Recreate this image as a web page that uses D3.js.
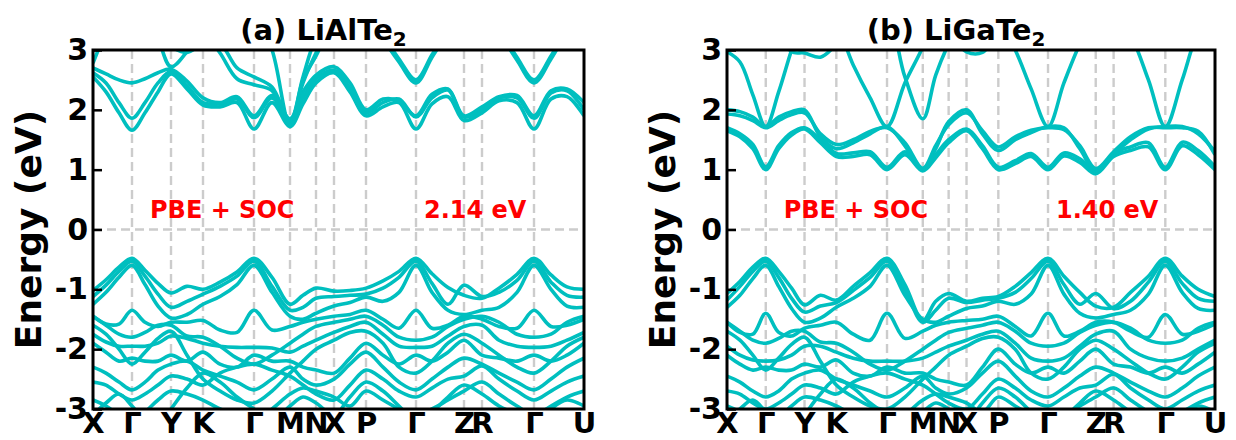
<!DOCTYPE html>
<html>
<head>
<meta charset="utf-8">
<script src="https://cdn.jsdelivr.net/npm/d3@7"></script>
<style>
  body { margin: 0; background: #fff; }
  svg { display: block; }
  text { font-family: "DejaVu Sans", sans-serif; font-weight: bold; }
</style>
</head>
<body>
<svg id="chart" width="1236" height="440"></svg>
<script>
// k-path: high-symmetry points (cumulative path length) and their labels
const kTicks  = [0, 39, 78, 110, 161, 197, 223, 241, 273, 323, 371, 389, 441, 491];
const kLabels = ["X", "Γ", "Y", "K", "Γ", "M", "N", "X", "P", "Γ", "Z", "R", "Γ", "U"];
// sampling of the path on which band energies are listed
const kGrid = [0, 13, 26, 39, 52, 65, 78, 94, 110, 127, 144, 161, 179, 197, 210, 223,
               241, 257, 273, 290, 306, 323, 339, 355, 371, 389, 406, 424, 441, 458, 474, 491];
const energyTicks = [-3, -2, -1, 0, 1, 2, 3];

// ---- LiAlTe2, PBE+SOC (eV) ----
const cbLiAlTe2 = [
  [2.55, 2.3, 1.95, 1.66, 1.95, 2.3, 2.6, 2.35, 2.08, 2.05, 2.12, 1.68, 2.12, 1.72, 2.1, 2.45, 2.62, 2.3, 1.9, 2.05, 2.12, 1.68, 2.1, 2.22, 1.82, 1.95, 2.15, 2.12, 1.68, 2.18, 2.22, 1.9],
  [2.62, 2.45, 2.12, 1.86, 2.12, 2.45, 2.64, 2.4, 2.12, 2.1, 2.18, 1.87, 2.2, 1.8, 2.2, 2.52, 2.66, 2.36, 1.95, 2.12, 2.18, 1.88, 2.2, 2.33, 1.88, 2.0, 2.2, 2.2, 1.86, 2.28, 2.32, 2.0],
  [2.7, 2.6, 2.5, 2.45, 2.52, 2.62, 2.68, 2.48, 2.2, 2.12, 2.22, 1.9, 2.24, 1.85, 2.3, 2.58, 2.72, 2.45, 2.0, 2.18, 2.15, 1.9, 2.26, 2.35, 1.9, 2.05, 2.22, 2.24, 1.9, 2.32, 2.35, 2.12],
  [2.78, 3.3, 3.7, 3.9, 3.7, 3.2, 2.72, 2.97, 3.3, 2.95, 2.52, 2.42, 2.32, 1.78, 2.5, 2.9, 3.5, 3.8, 3.8, 3.2, 2.8, 2.45, 2.88, 3.3, 3.8, 3.8, 3.7, 3.7, 3.7, 3.7, 3.7, 3.7],
  [3.7, 3.7, 3.7, 3.7, 3.7, 3.7, 3.7, 3.7, 3.7, 3.7, 3.7, 3.6, 3.0, 1.75, 2.45, 2.95, 3.5, 3.7, 3.7, 3.7, 3.7, 3.7, 3.7, 3.7, 3.7, 3.7, 3.3, 2.83, 2.45, 2.85, 3.3, 3.7],
  [3.7, 3.7, 3.7, 3.7, 3.5, 3.2, 3.05, 2.96, 3.1, 3.1, 2.7, 2.55, 2.38, 1.82, 2.55, 3.2, 3.6, 3.7, 3.7, 3.25, 2.85, 2.5, 2.92, 3.35, 3.8, 3.8, 3.35, 2.88, 2.5, 2.9, 3.35, 3.7]
];
const vbLiAlTe2 = [
  [-1.02, -0.84, -0.63, -0.48, -0.68, -0.9, -1.06, -0.95, -1.0, -0.88, -0.71, -0.48, -0.8, -1.25, -1.1, -0.98, -1.03, -1.02, -0.98, -0.86, -0.7, -0.48, -0.74, -0.97, -1.1, -1.15, -0.98, -0.75, -0.48, -0.76, -0.96, -1.0],
  [-1.12, -0.93, -0.7, -0.53, -0.78, -1.08, -1.3, -1.2, -1.08, -0.95, -0.78, -0.53, -0.95, -1.35, -1.3, -1.15, -1.12, -1.1, -1.08, -0.98, -0.8, -0.53, -0.9, -1.25, -0.93, -1.12, -1.05, -0.85, -0.53, -0.88, -1.1, -1.13],
  [-1.25, -1.05, -0.8, -0.6, -0.92, -1.28, -1.48, -1.42, -1.25, -1.12, -0.92, -0.6, -1.05, -1.45, -1.5, -1.4, -1.28, -1.22, -1.13, -1.2, -1.05, -0.6, -1.05, -1.35, -1.42, -1.35, -1.3, -1.05, -0.6, -1.0, -1.28, -1.3],
  [-1.45, -1.58, -1.58, -1.35, -1.55, -1.62, -1.55, -1.55, -1.52, -1.68, -1.72, -1.35, -1.68, -1.62, -1.55, -1.5, -1.45, -1.42, -1.35, -1.5, -1.65, -1.35, -1.65, -1.6, -1.45, -1.5, -1.62, -1.65, -1.35, -1.62, -1.6, -1.5],
  [-1.75, -1.88, -1.95, -1.95, -1.95, -1.9, -1.78, -1.82, -1.9, -1.95, -1.97, -1.97, -1.98, -2.05, -1.95, -1.85, -1.72, -1.62, -1.55, -1.75, -1.95, -1.97, -1.95, -1.78, -1.62, -1.6, -1.85, -1.95, -1.97, -1.95, -1.85, -1.72],
  [-1.9, -2.05, -2.2, -2.15, -2.2, -2.2, -2.1, -2.2, -2.05, -2.25, -2.3, -2.1, -2.2, -2.2, -2.3, -2.35, -2.4, -2.15, -1.9, -2.1, -2.25, -2.1, -2.2, -2.05, -1.85, -2.1, -2.15, -2.2, -2.1, -2.2, -2.1, -1.9],
  [-2.3, -2.4, -2.55, -2.68, -2.55, -2.35, -2.25, -2.2, -2.35, -2.45, -2.55, -2.68, -2.5, -2.3, -2.5, -2.6, -2.5, -2.25, -2.05, -2.3, -2.55, -2.68, -2.5, -2.3, -2.15, -2.25, -2.4, -2.55, -2.68, -2.5, -2.3, -2.15],
  [-1.6, -1.75, -2.0, -2.25, -2.05, -1.82, -1.7, -2.1, -2.5, -2.7, -2.85, -2.9, -2.7, -2.4, -2.2, -2.0, -1.85, -1.72, -1.7, -1.9, -2.3, -2.4, -2.2, -1.9, -1.75, -1.9, -2.1, -2.3, -2.4, -2.2, -1.95, -1.8],
  [-2.55, -2.6, -2.75, -2.85, -2.75, -2.6, -2.45, -2.5, -2.6, -2.4, -2.3, -2.25, -2.35, -2.45, -2.6, -2.75, -2.85, -2.6, -2.35, -2.5, -2.7, -2.8, -2.65, -2.5, -2.45, -2.28, -2.5, -2.7, -2.85, -2.7, -2.55, -2.45],
  [-2.85, -2.95, -3.1, -3.2, -3.05, -2.85, -2.7, -2.75, -2.85, -3.0, -3.1, -3.2, -3.0, -2.75, -2.65, -2.7, -2.8, -2.95, -2.7, -2.85, -3.0, -3.1, -3.0, -2.85, -2.7, -2.55, -2.75, -2.95, -3.1, -2.95, -2.8, -2.7],
  [-1.45, -1.6, -1.75, -1.8, -1.72, -1.6, -1.6, -1.78, -1.8, -1.95, -2.15, -2.25, -2.1, -1.9, -1.75, -1.62, -1.55, -1.5, -1.45, -1.6, -1.8, -1.85, -1.8, -1.62, -1.5, -1.45, -1.55, -1.75, -1.8, -1.75, -1.55, -1.45],
  [-3.1, -2.9, -2.75, -2.95, -3.2, -3.3, -3.0, -2.65, -2.4, -2.55, -2.8, -3.0, -3.2, -2.95, -2.8, -2.9, -3.1, -2.8, -2.55, -2.7, -2.95, -3.2, -3.05, -2.8, -2.6, -2.75, -2.95, -3.1, -3.3, -3.0, -2.85, -2.95]
];

// ---- LiGaTe2, PBE+SOC (eV) ----
const cbLiGaTe2 = [
  [1.65, 1.55, 1.35, 1.0, 1.35, 1.58, 1.68, 1.45, 1.22, 1.22, 1.25, 1.0, 1.25, 0.98, 1.2, 1.45, 1.65, 1.35, 1.0, 1.1, 1.22, 1.0, 1.23, 1.12, 0.93, 1.22, 1.32, 1.38, 1.0, 1.4, 1.25, 1.0],
  [1.7, 1.6, 1.42, 1.05, 1.4, 1.62, 1.7, 1.5, 1.27, 1.28, 1.3, 1.04, 1.3, 1.02, 1.25, 1.5, 1.68, 1.4, 1.04, 1.15, 1.27, 1.04, 1.28, 1.18, 0.97, 1.27, 1.38, 1.45, 1.04, 1.46, 1.32, 1.05],
  [2.0, 1.97, 1.88, 1.72, 1.88, 1.97, 2.0, 1.55, 1.35, 1.45, 1.6, 1.72, 1.4, 1.0, 1.35, 1.8, 2.0, 1.6, 1.32, 1.5, 1.62, 1.72, 1.7, 1.35, 0.98, 1.26, 1.5, 1.68, 1.72, 1.72, 1.6, 1.3],
  [1.93, 1.9, 1.82, 1.7, 1.82, 1.92, 1.95, 1.6, 1.42, 1.5, 1.64, 1.7, 1.45, 1.02, 1.4, 1.75, 1.95, 1.65, 1.38, 1.55, 1.66, 1.7, 1.67, 1.4, 1.02, 1.3, 1.55, 1.7, 1.7, 1.7, 1.64, 1.25],
  [2.97, 2.8, 2.25, 1.72, 2.3, 3.0, 3.6, 3.7, 3.7, 3.7, 3.7, 3.7, 3.7, 3.7, 3.7, 3.7, 3.7, 3.7, 3.5, 3.0, 2.35, 1.72, 2.45, 3.1, 3.6, 3.7, 3.7, 3.7, 3.7, 3.7, 3.7, 3.7],
  [3.7, 3.7, 3.7, 3.7, 3.7, 3.7, 3.7, 3.6, 3.4, 2.75, 2.2, 1.72, 2.45, 3.05, 3.6, 3.7, 3.7, 3.7, 3.7, 3.7, 3.7, 3.7, 3.7, 3.7, 3.7, 3.6, 3.25, 2.5, 1.72, 2.5, 3.3, 3.7],
  [3.7, 3.7, 3.7, 3.7, 3.7, 3.7, 3.7, 3.7, 3.7, 3.7, 3.7, 3.6, 2.55, 1.85, 2.58, 3.1, 3.6, 3.7, 3.7, 3.7, 3.7, 3.7, 3.7, 3.7, 3.7, 3.7, 3.7, 3.7, 3.7, 3.7, 3.7, 3.7],
  [3.7, 3.7, 3.6, 3.5, 3.3, 2.97, 2.95, 2.88, 3.1, 3.5, 3.7, 3.7, 3.7, 3.7, 3.6, 3.3, 2.97, 2.96, 3.3, 3.7, 3.7, 3.7, 3.7, 3.7, 3.7, 3.7, 3.7, 3.7, 3.7, 3.7, 3.7, 3.7]
];
const vbLiGaTe2 = [
  [-1.07, -0.87, -0.63, -0.48, -0.7, -0.98, -1.26, -1.1, -1.18, -0.95, -0.72, -0.48, -0.92, -1.52, -1.2, -1.07, -1.2, -1.15, -1.12, -0.95, -0.72, -0.48, -0.78, -1.05, -1.28, -1.3, -1.05, -0.78, -0.48, -0.78, -1.0, -1.12],
  [-1.18, -0.95, -0.7, -0.53, -0.8, -1.15, -1.38, -1.28, -1.22, -1.02, -0.8, -0.53, -1.0, -1.55, -1.35, -1.15, -1.22, -1.18, -1.15, -1.05, -0.82, -0.53, -0.92, -1.25, -1.07, -1.32, -1.2, -0.88, -0.53, -0.9, -1.15, -1.2],
  [-1.3, -1.1, -0.82, -0.6, -0.95, -1.32, -1.55, -1.48, -1.3, -1.15, -0.95, -0.6, -1.1, -1.5, -1.55, -1.45, -1.32, -1.28, -1.2, -1.25, -1.08, -0.6, -1.08, -1.4, -1.48, -1.42, -1.35, -1.08, -0.6, -1.05, -1.32, -1.35],
  [-1.55, -1.72, -1.75, -1.4, -1.72, -1.78, -1.65, -1.6, -1.55, -1.75, -1.85, -1.4, -1.82, -1.7, -1.6, -1.55, -1.52, -1.5, -1.45, -1.62, -1.78, -1.4, -1.78, -1.7, -1.55, -1.55, -1.7, -1.8, -1.42, -1.75, -1.7, -1.58],
  [-1.95, -2.1, -2.18, -2.2, -2.18, -2.1, -1.95, -1.95, -2.05, -2.15, -2.2, -2.2, -2.2, -2.15, -2.05, -1.95, -1.85, -1.75, -1.7, -1.9, -2.15, -2.2, -2.15, -1.95, -1.75, -1.7, -2.0, -2.15, -2.2, -2.15, -2.0, -1.85],
  [-2.1, -2.25, -2.35, -2.3, -2.35, -2.35, -2.25, -2.3, -2.18, -2.4, -2.45, -2.3, -2.4, -2.4, -2.5, -2.55, -2.6, -2.3, -2.0, -2.25, -2.4, -2.3, -2.4, -2.2, -2.0, -2.25, -2.3, -2.4, -2.3, -2.4, -2.25, -2.05],
  [-2.45, -2.55, -2.7, -2.8, -2.7, -2.5, -2.4, -2.35, -2.5, -2.6, -2.7, -2.8, -2.65, -2.45, -2.65, -2.75, -2.65, -2.4, -2.2, -2.45, -2.7, -2.8, -2.65, -2.45, -2.3, -2.4, -2.55, -2.7, -2.8, -2.65, -2.45, -2.3],
  [-1.7, -1.85, -2.1, -2.35, -2.15, -1.92, -1.8, -2.2, -2.6, -2.8, -2.95, -3.0, -2.8, -2.5, -2.3, -2.1, -1.95, -1.82, -1.8, -2.0, -2.4, -2.5, -2.3, -2.0, -1.85, -2.0, -2.2, -2.4, -2.5, -2.3, -2.05, -1.9],
  [-2.7, -2.75, -2.9, -3.0, -2.9, -2.75, -2.6, -2.65, -2.75, -2.55, -2.45, -2.4, -2.5, -2.6, -2.75, -2.9, -3.0, -2.75, -2.5, -2.65, -2.85, -2.95, -2.8, -2.65, -2.6, -2.42, -2.65, -2.85, -3.0, -2.85, -2.7, -2.6],
  [-2.95, -3.05, -3.2, -3.3, -3.15, -2.95, -2.8, -2.85, -2.95, -3.1, -3.2, -3.3, -3.1, -2.85, -2.75, -2.8, -2.9, -3.05, -2.8, -2.95, -3.1, -3.2, -3.1, -2.95, -2.8, -2.65, -2.85, -3.05, -3.2, -3.05, -2.9, -2.8],
  [-1.55, -1.7, -1.85, -1.9, -1.82, -1.7, -1.7, -1.88, -1.9, -2.05, -2.25, -2.35, -2.2, -2.0, -1.85, -1.72, -1.65, -1.6, -1.55, -1.7, -1.9, -1.95, -1.9, -1.72, -1.6, -1.55, -1.65, -1.85, -1.9, -1.85, -1.65, -1.55],
  [-3.2, -3.0, -2.85, -3.05, -3.3, -3.4, -3.1, -2.75, -2.5, -2.65, -2.9, -3.1, -3.3, -3.05, -2.9, -3.0, -3.2, -2.9, -2.65, -2.8, -3.05, -3.3, -3.15, -2.9, -2.7, -2.85, -3.05, -3.2, -3.4, -3.1, -2.95, -3.05]
];

const panelTitles = ["(a) LiAlTe", "(b) LiGaTe"];
const gapLabels = ["2.14 eV", "1.40 eV"];
const methodLabel = "PBE + SOC";

// ---- layout ----
const plotTop = 50, plotBottom = 409;
const panels = [
  { key: "a", left: 93,  right: 584, title: panelTitles[0], gap: gapLabels[0], bands: cbLiAlTe2.concat(vbLiAlTe2) },
  { key: "b", left: 727, right: 1215, title: panelTitles[1], gap: gapLabels[1], bands: cbLiGaTe2.concat(vbLiGaTe2) }
];
const bandColor = "#00bfbf";
const gridColor = "#cccccc";

const svg = d3.select("#chart");
const defs = svg.append("defs");

panels.forEach(p => {
  const x = d3.scaleLinear().domain([0, kTicks[kTicks.length - 1]]).range([p.left, p.right]);
  const y = d3.scaleLinear().domain([-3, 3]).range([plotBottom, plotTop]);
  const g = svg.append("g");

  defs.append("clipPath").attr("id", "clip-" + p.key)
    .append("rect")
    .attr("x", p.left).attr("y", plotTop)
    .attr("width", p.right - p.left).attr("height", plotBottom - plotTop);

  // dashed guides at high-symmetry points and at the Fermi level
  g.append("g").selectAll("line")
    .data(kTicks.slice(1, -1))
    .join("line")
    .attr("x1", d => x(d)).attr("x2", d => x(d))
    .attr("y1", plotTop).attr("y2", plotBottom)
    .attr("stroke", gridColor).attr("stroke-width", 2.4)
    .attr("stroke-dasharray", "9,5");
  g.append("line")
    .attr("x1", p.left).attr("x2", p.right)
    .attr("y1", y(0)).attr("y2", y(0))
    .attr("stroke", gridColor).attr("stroke-width", 2.4)
    .attr("stroke-dasharray", "9,5");

  // bands
  const line = d3.line()
    .x((d, i) => x(kGrid[i]))
    .y(d => y(d))
    .curve(d3.curveCatmullRom.alpha(0.5));
  g.append("g").attr("clip-path", "url(#clip-" + p.key + ")")
    .selectAll("path")
    .data(p.bands)
    .join("path")
    .attr("d", line)
    .attr("fill", "none")
    .attr("stroke", bandColor)
    .attr("stroke-width", 3.6)
    .attr("stroke-linejoin", "round");

  // frame
  g.append("rect")
    .attr("x", p.left).attr("y", plotTop)
    .attr("width", p.right - p.left).attr("height", plotBottom - plotTop)
    .attr("fill", "none").attr("stroke", "#000").attr("stroke-width", 3);

  // energy axis (ticks pointing inward)
  const yAxis = g.append("g")
    .attr("transform", `translate(${p.left},0)`)
    .call(d3.axisLeft(y).tickValues(energyTicks).tickFormat(d3.format("d"))
      .tickSizeInner(-9).tickSizeOuter(0).tickPadding(5));
  yAxis.select(".domain").remove();
  yAxis.selectAll(".tick line").attr("stroke", "#000").attr("stroke-width", 2.5);
  yAxis.selectAll(".tick text")
    .attr("fill", "#000").style("font-size", "30px")
    .text(d => d < 0 ? "-" + Math.abs(d) : String(d));

  // k-path axis
  const xAxis = g.append("g")
    .attr("transform", `translate(0,${plotBottom})`)
    .call(d3.axisBottom(x).tickValues(kTicks).tickFormat((d, i) => kLabels[i])
      .tickSize(0).tickPadding(3));
  xAxis.select(".domain").remove();
  xAxis.selectAll(".tick text").attr("fill", "#000").style("font-size", "29px");

  // axis title
  g.append("text")
    .attr("transform", `translate(${p.left - 52},${(plotTop + plotBottom) / 2}) rotate(-90)`)
    .attr("text-anchor", "middle")
    .style("font-size", "36px")
    .text("Energy (eV)");

  // panel title with subscript
  const t = g.append("text")
    .attr("x", (p.left + p.right) / 2 - 15).attr("y", 40)
    .attr("text-anchor", "middle")
    .style("font-size", "29px");
  t.append("tspan").text(p.title);
  t.append("tspan").attr("dy", 6).style("font-size", "20px").text("2");

  // annotations
  g.append("text")
    .attr("x", x(57)).attr("y", y(0.19))
    .attr("fill", "#ff0000").style("font-size", "24px")
    .text(methodLabel);
  g.append("text")
    .attr("x", x(331)).attr("y", y(0.19))
    .attr("fill", "#ff0000").style("font-size", "24px")
    .text(p.gap);
});
</script>
</body>
</html>
